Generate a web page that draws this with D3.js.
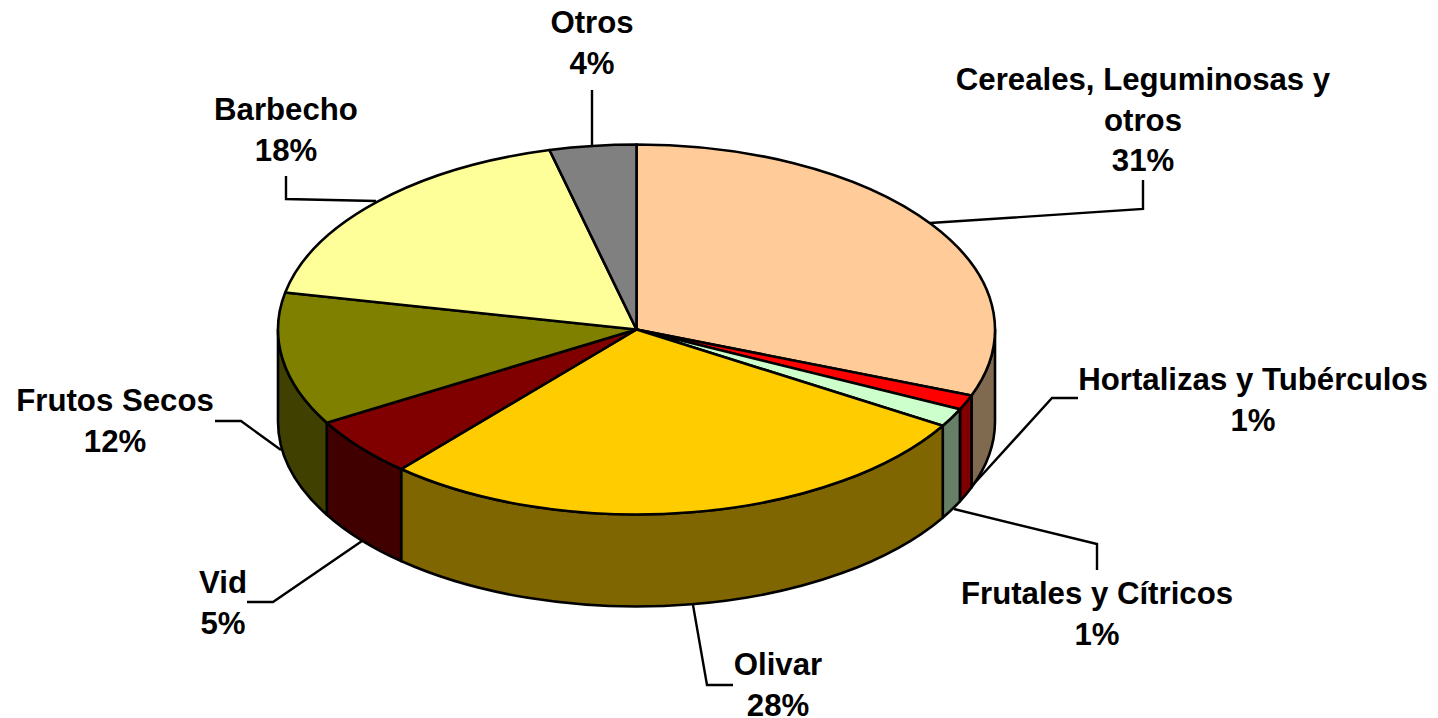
<!DOCTYPE html>
<html><head><meta charset="utf-8">
<script src="https://cdnjs.cloudflare.com/ajax/libs/d3/7.8.5/d3.min.js"></script>
<style>html,body{margin:0;background:#fff}svg{display:block}
text{font-family:"Liberation Sans",Arial,sans-serif;font-weight:bold;font-size:31.2px;fill:#000;text-anchor:middle}</style>
</head><body><svg id="c" width="1438" height="718"></svg>
<script>
const categories=["Cereales, Leguminosas y otros","Hortalizas y Tubérculos","Frutales y Cítricos","Olivar","Vid","Frutos Secos","Barbecho","Otros"];
const values=[30.8,1.3,1.6,27.7,5.2,11.6,17.9,3.9];
const percentLabels=["31%","1%","1%","28%","5%","12%","18%","4%"];
const topColors=["#FFCC99","#FF0000","#CCFFCC","#FFCC00","#800000","#808000","#FFFF99","#808080"];
const sideColors=["#806A4F","#800000","#677F67","#806600","#400000","#404000","#80804D","#404040"];
const labelLines=[["Cereales, Leguminosas y","otros","31%"],["Hortalizas y Tubérculos","1%"],["Frutales y Cítricos","1%"],["Olivar","28%"],["Vid","5%"],["Frutos Secos","12%"],["Barbecho","18%"],["Otros","4%"]];
const labelCentres=[[1143,90],[1253,390],[1097,604],[778,675],[223,593],[115,411],[286,120],[592,33]];
const leaders=[[[930,223],[1143,209],[1143,180]],[[972,486],[1052,398],[1078,398]],[[954,509],[1097,544],[1097,570]],[[693,605],[707,685],[733,685]],[[362,541],[273,602],[247,602]],[[281,450],[241,421],[215,421]],[[376,201],[286,199],[286,176]],[[592,146],[592,90]]];

const svg=d3.select("#c");
const x=d3.scaleLinear().domain([-1,1]).range([278,995]);
const y=d3.scaleLinear().domain([-1,1]).range([144.5,514.5]);
const depth=92;
const pie=d3.pie().value(d=>d).sort(null);
const arcs=pie(values);
const px=a=>x(Math.sin(a)), py=a=>y(-Math.cos(a));
const rx=(x(1)-x(-1))/2, ry=(y(1)-y(-1))/2;
const line=d3.line();
function apply(s){return s.attr("stroke","#000").attr("stroke-width",2.6).attr("stroke-linejoin","round");}
function sector(d){const big=d.endAngle-d.startAngle>Math.PI?1:0;
  return `M${x(0)},${y(0)}L${px(d.startAngle)},${py(d.startAngle)}A${rx},${ry} 0 ${big} 1 ${px(d.endAngle)},${py(d.endAngle)}Z`;}
// outer wall: the visible part of each slice lies between 90° and 270°
function wall(d){const a0=Math.max(d.startAngle,Math.PI/2),a1=Math.min(d.endAngle,Math.PI*1.5);
  if(a1<=a0)return null;
  return `M${px(a0)},${py(a0)}A${rx},${ry} 0 0 1 ${px(a1)},${py(a1)}L${px(a1)},${py(a1)+depth}A${rx},${ry} 0 0 0 ${px(a0)},${py(a0)+depth}Z`;}
const lg=svg.append("g");
leaders.forEach(l=>lg.append("path").attr("d",line(l)).attr("fill","none").attr("stroke","#000").attr("stroke-width",2.4));
const walls=svg.append("g");
arcs.forEach((d,i)=>{const p=wall(d);if(p)apply(walls.append("path").attr("d",p).attr("fill",sideColors[i]));});
const tops=svg.append("g");
arcs.forEach((d,i)=>{apply(tops.append("path").attr("d",sector(d)).attr("fill",topColors[i]));});
const tg=svg.append("g");
labelLines.forEach((ls,i)=>{
  const t=tg.append("text").attr("x",labelCentres[i][0]);
  ls.forEach((s,j)=>t.append("tspan").attr("x",labelCentres[i][0]).attr("y",labelCentres[i][1]+j*40.5).text(s));
});
</script></body></html>
